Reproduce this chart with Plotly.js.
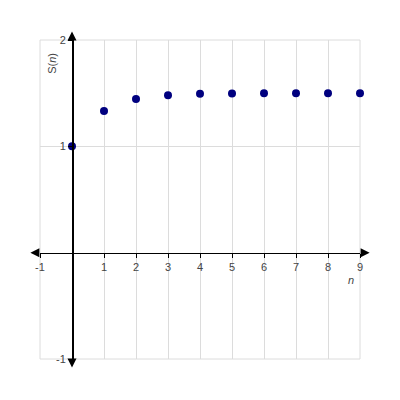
<!DOCTYPE html>
<html>
<head>
<meta charset="utf-8">
<script src="https://cdn.plot.ly/plotly-3.0.1.min.js"></script>
<style>
  body { margin: 0; background: #fff; }
  #chart { width: 400px; height: 400px; }
</style>
</head>
<body>
<div id="chart"></div>
<script>
// values of S(n)
let n_vals = [0, 1, 2, 3, 4, 5, 6, 7, 8, 9];
let s_vals = [1, 1.333, 1.444, 1.481, 1.494, 1.498, 1.499, 1.5, 1.5, 1.5];
let x_ticks = [-1, 1, 2, 3, 4, 5, 6, 7, 8, 9];
let y_ticks = [-1, 1, 2];
const x_range = [-1, 9];
const y_range = [-1, 2];

let tick_font = { family: "Liberation Sans, Arial, sans-serif", size: 11, color: "#444" };

let data = [{
    x: n_vals,
    y: s_vals,
    type: "scatter",
    mode: "markers",
    marker: { color: "#00007f", size: 8 },
    cliponaxis: false,
    hoverinfo: "x+y"
}];

function arrow(x, y, ax, ay) {
    return {
        x: x, y: y, ax: ax, ay: ay,
        xref: "x", yref: "y", axref: "x", ayref: "y",
        text: "", showarrow: true,
        arrowhead: 2, arrowsize: 1.2, arrowwidth: 1.5, arrowcolor: "#000"
    };
}

let layout = {
    width: 400,
    height: 400,
    margin: { l: 40, r: 40, t: 40, b: 41 },
    paper_bgcolor: "#fff",
    plot_bgcolor: "#fff",
    showlegend: false,
    xaxis: {
        range: x_range,
        anchor: "free",
        position: (0 - y_range[0]) / (y_range[1] - y_range[0]),
        tickvals: x_ticks,
        ticktext: x_ticks.map(String),
        ticks: "outside",
        ticklen: 4,
        tickcolor: "#000",
        tickfont: tick_font,
        showline: true,
        linecolor: "#000",
        linewidth: 1.5,
        showgrid: true,
        gridcolor: "#dcdcdc",
        gridwidth: 1,
        zeroline: false,
        fixedrange: true
    },
    yaxis: {
        range: y_range,
        anchor: "free",
        position: (0 - x_range[0]) / (x_range[1] - x_range[0]),
        tickvals: y_ticks,
        ticktext: y_ticks.map(String),
        ticks: "outside",
        ticklen: 4,
        tickcolor: "#000",
        tickfont: tick_font,
        showline: true,
        linecolor: "#000",
        linewidth: 1.5,
        showgrid: true,
        gridcolor: "#dcdcdc",
        gridwidth: 1,
        zeroline: false,
        fixedrange: true
    },
    shapes: [{
        // outer grid border at -1 / 9 / 2 / -1
        type: "rect", xref: "paper", yref: "paper",
        x0: 0, x1: 1, y0: 0, y1: 1,
        line: { color: "#dcdcdc", width: 1 },
        layer: "below"
    }],
    annotations: [
        arrow(9.3, 0, 9, 0),
        arrow(-1.3, 0, -1, 0),
        arrow(0, 2.08, 0, 2),
        arrow(0, -1.08, 0, -1),
        {
            text: "S(<i>n</i>)", xref: "paper", yref: "paper",
            x: 0.01, y: 0.965, showarrow: false, textangle: -90,
            font: { family: "Liberation Sans, Arial, sans-serif", size: 11, color: "#444" }
        },
        {
            text: "<i>n</i>", xref: "paper", yref: "paper",
            x: 0.988, y: 0.222, showarrow: false,
            font: { family: "Liberation Sans, Arial, sans-serif", size: 11, color: "#444" }
        }
    ]
};

Plotly.newPlot(document.getElementById("chart"), data, layout, { displayModeBar: false, staticPlot: true });
</script>
</body>
</html>
